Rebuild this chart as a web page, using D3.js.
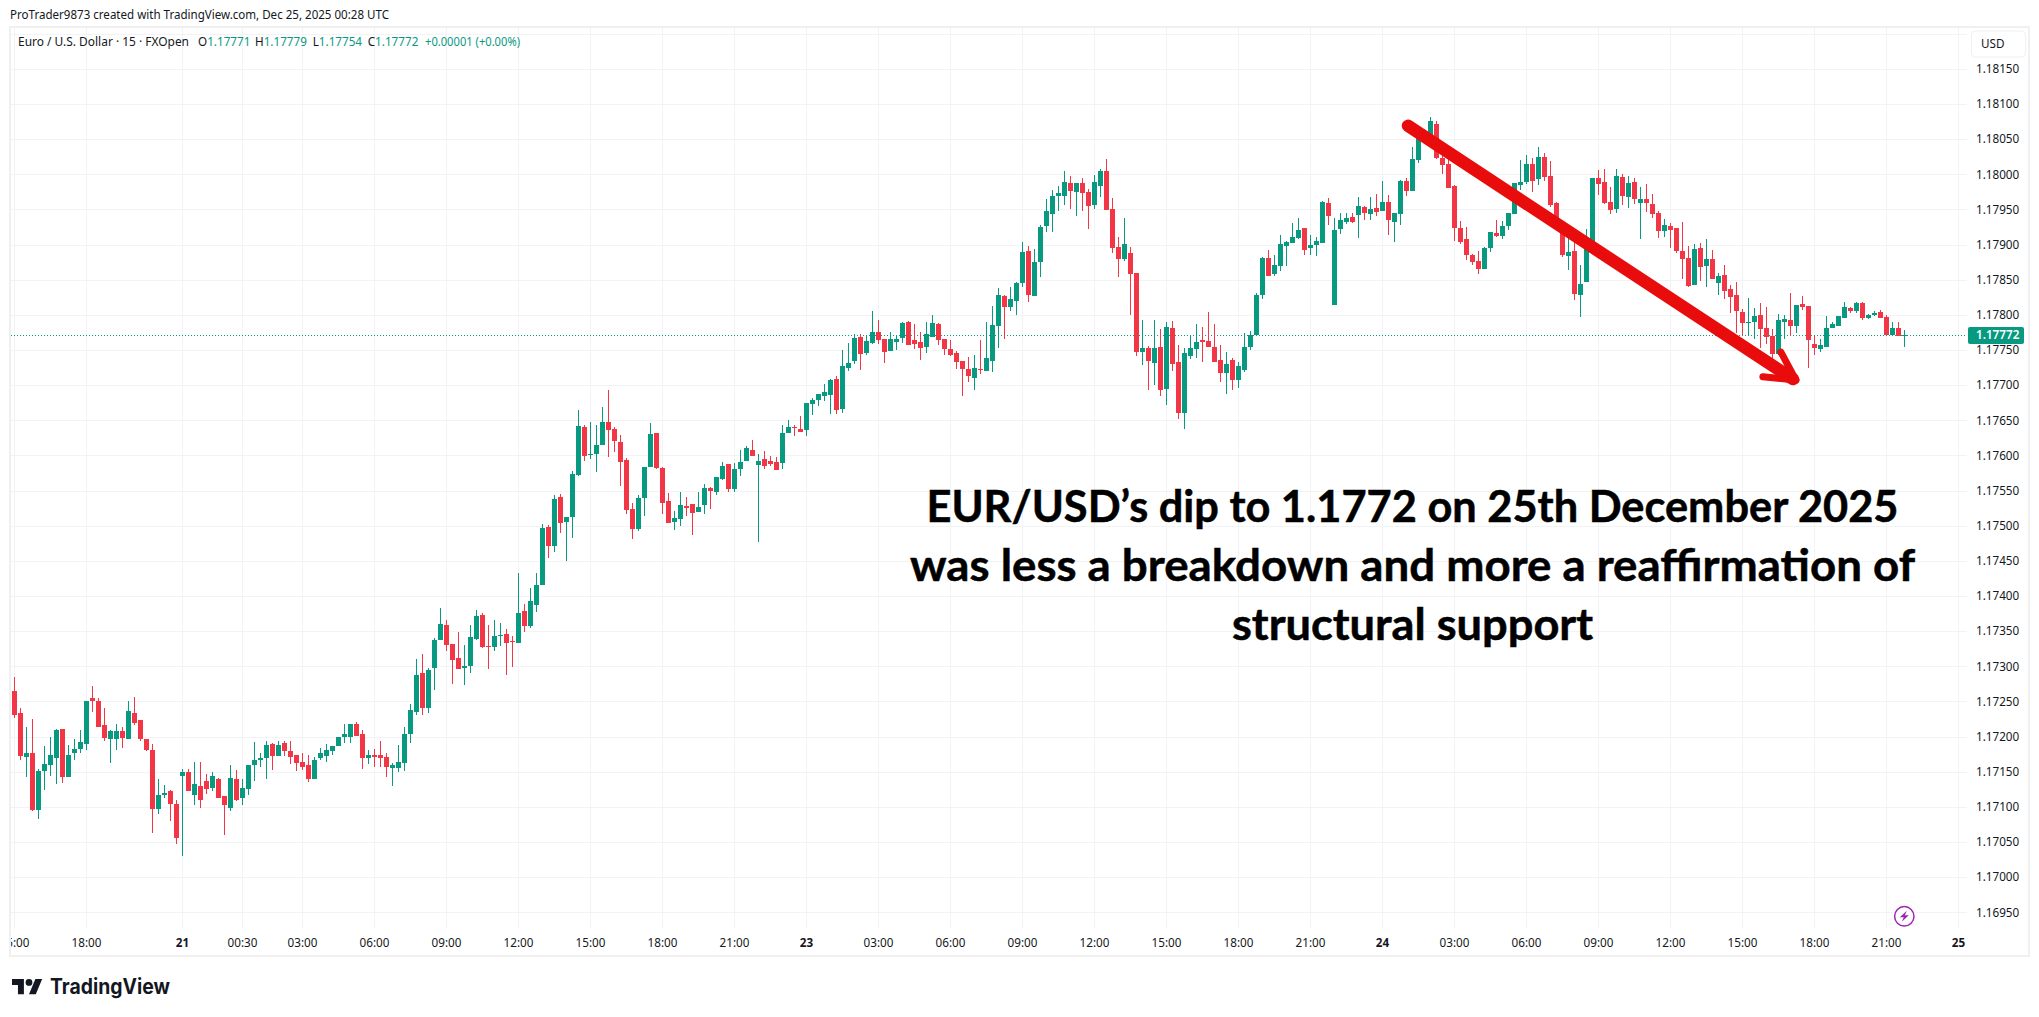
<!DOCTYPE html>
<html><head><meta charset="utf-8">
<style>html,body{margin:0;padding:0;background:#fff;overflow:hidden}svg{display:block}</style>
<script src="https://cdnjs.cloudflare.com/ajax/libs/d3/7.8.5/d3.min.js"></script>
</head><body><svg id="c" width="2039" height="1017"></svg>
<script>
// Prices are stored as points (0.00001) above priceBase
const priceBase = 1.17;
const opens = [265,234,171,176,96,151,159,170,211,143,
176,183,190,255,251,216,196,196,208,197,
234,223,196,181,97,117,122,104,144,149,
117,130,137,127,140,116,99,139,112,126,
160,167,169,190,173,191,180,174,164,160,
140,169,173,180,186,200,200,218,204,170,
174,174,171,156,156,163,203,235,290,240,
297,337,359,332,312,297,301,339,373,329,
327,343,346,336,333,379,358,387,416,498,
471,541,505,512,572,641,601,602,615,648,
638,619,594,524,495,539,584,632,582,535,
505,510,528,531,519,529,554,548,566,588,
552,581,592,608,586,595,592,591,589,632,
641,638,636,673,679,684,686,709,666,724,
734,768,746,760,776,766,749,761,767,790,
764,761,754,768,787,766,751,746,734,723,
710,723,720,734,784,827,811,820,845,891,
827,875,927,944,969,969,988,975,988,975,
956,983,1005,951,897,880,888,860,747,753,
731,754,694,781,733,660,741,751,764,763,
755,736,717,736,707,721,754,771,828,881,
858,869,898,902,909,923,895,899,902,959,
814,922,932,939,942,953,943,952,948,961,
932,943,990,976,1020,1049,1045,1072,1023,1015,
983,923,908,885,876,865,895,916,912,926,
943,985,989,1015,993,1025,998,959,928,884,
891,828,847,901,995,989,960,950,996,968,
989,959,965,958,945,919,926,923,891,881,
842,895,869,879,845,857,837,828,804,788,
790,800,781,770,745,790,792,784,815,812,
758,751,755,782,784,795,810,805,817,795,
800,804,797,771,782,771];
const highs = [285,241,214,225,154,187,200,211,211,188,
197,210,251,272,255,240,210,218,213,251,
257,223,196,190,140,131,124,110,154,154,
164,164,147,149,141,116,159,153,140,160,
193,177,194,191,194,194,194,174,177,174,
171,184,190,187,200,218,218,221,210,181,
183,194,176,163,188,214,247,311,317,297,
340,383,366,332,349,330,359,380,376,359,
366,362,353,343,433,389,411,433,502,501,
544,545,512,578,665,644,648,644,669,693,
641,629,596,532,544,584,646,632,584,546,
521,548,541,531,548,559,555,569,591,588,
589,608,614,622,602,606,599,598,644,651,
644,656,675,682,688,702,709,713,750,760,
773,773,771,805,793,766,776,771,790,791,
787,776,790,800,788,766,764,749,734,740,
743,764,790,813,838,828,840,847,904,898,
894,928,965,978,983,1005,998,988,995,979,
999,1008,1022,966,911,938,897,860,793,756,
793,780,790,791,757,753,771,787,783,804,
787,757,747,739,733,774,777,831,882,892,
885,913,905,930,938,923,913,911,962,966,
938,945,945,945,968,955,968,972,990,971,
945,992,995,1039,1065,1065,1082,1076,1030,1025,
985,933,925,887,891,896,918,935,933,945,
988,1020,1028,1023,1039,1030,1019,961,933,913,
906,871,922,995,1006,1007,982,1007,1000,997,
995,982,986,972,948,936,931,923,932,898,
901,902,908,892,859,871,842,847,808,824,
810,817,811,780,801,800,831,814,827,812,
770,765,798,790,798,819,811,819,819,801,
805,807,800,790,790,779];
const lows = [227,167,143,94,83,124,144,133,134,143,
167,177,181,235,213,194,163,181,184,197,
217,194,180,63,90,113,80,47,30,122,
102,99,119,122,112,60,94,109,103,117,
137,157,140,153,173,173,161,151,153,136,
140,166,164,174,186,191,191,201,154,161,
157,157,143,130,150,151,191,231,231,234,
266,337,322,275,296,273,290,337,326,296,
322,329,287,299,333,349,355,377,416,454,
463,490,450,483,571,592,595,576,615,598,
605,557,517,481,492,514,584,581,517,504,
494,500,514,487,519,517,524,544,565,548,
548,571,592,599,477,581,585,579,581,632,
628,634,628,658,671,677,659,659,661,720,
730,721,743,758,758,731,749,750,760,757,
751,736,746,768,757,743,741,723,684,704,
693,716,720,719,753,766,805,800,840,818,
827,854,918,918,948,956,951,941,948,922,
951,968,949,888,854,877,800,741,729,693,
700,684,672,720,652,637,737,739,733,754,
733,704,688,693,696,719,750,771,822,856,
855,862,869,902,908,885,885,884,902,928,
814,915,929,931,909,935,935,941,948,913,
903,928,969,976,1016,1044,1044,1022,1001,981,
905,901,878,871,858,865,889,911,908,921,
943,978,986,975,985,990,953,921,882,864,
821,797,847,899,971,958,943,945,956,952,
958,908,946,938,909,911,895,888,851,839,
842,848,839,851,828,822,802,774,772,770,
765,753,759,735,743,765,770,774,807,725,
743,747,755,782,784,795,802,802,792,794,
798,795,771,771,770,754];
const closes = [231,173,176,96,151,161,174,210,143,174,
183,193,251,250,213,198,208,208,198,237,
220,196,181,97,117,120,104,56,149,122,
133,110,126,144,113,102,141,110,127,160,
167,169,188,173,188,180,171,163,157,139,
167,176,181,186,200,203,218,201,170,174,
171,170,157,160,164,204,238,288,240,295,
337,360,330,309,296,301,342,371,327,327,
343,345,333,335,376,358,393,416,497,471,
538,504,512,574,642,599,602,615,648,636,
621,591,522,495,539,584,631,582,532,504,
511,529,525,518,527,554,550,569,585,552,
581,591,611,599,592,585,588,579,632,641,
639,634,675,679,688,690,707,664,727,731,
767,744,763,776,764,747,766,766,788,757,
758,753,773,788,764,751,743,733,723,713,
724,721,739,786,828,811,823,845,889,828,
875,925,948,969,974,989,976,988,974,955,
989,1005,949,895,880,901,858,747,753,734,
753,693,783,730,660,746,753,761,761,754,
733,717,730,707,727,755,772,828,881,856,
871,901,903,911,921,893,899,905,961,941,
921,935,938,932,955,945,951,946,961,935,
945,990,976,1022,1054,1058,1076,1023,1013,981,
923,903,885,875,865,895,918,912,926,945,
988,989,1015,990,1025,996,956,930,885,889,
829,844,901,995,986,959,949,997,969,988,
965,965,959,943,919,928,921,891,879,841,
894,868,879,851,855,834,825,805,788,790,
798,780,768,744,792,794,784,814,811,764,
753,757,782,787,798,811,805,817,795,800,
802,795,771,781,770,772];

const priceTicks = [1.1695,1.17,1.1705,1.171,1.1715,1.172,1.1725,1.173,1.1735,1.174,1.1745,1.175,1.1755,1.176,1.1765,1.177,1.1775,1.178,1.1785,1.179,1.1795,1.18,1.1805,1.181,1.1815,1.182];
const hiddenPriceLabels = [1.182];
const timeTickIndex = [0,12,28,38,48,60,72,84,96,108,120,132,144,156,168,180,192,204,216,228,240,252,264,276,288,300,312,324];
const timeTickLabels = ["15:00","18:00","21","00:30","03:00","06:00","09:00","12:00","15:00","18:00","21:00","23","03:00","06:00","09:00","12:00","15:00","18:00","21:00","24","03:00","06:00","09:00","12:00","15:00","18:00","21:00","25"];
const dayLabels = ["21","23","24","25"];
const lastPrice = 1.17772;
const headline = ["EUR/USD’s dip to 1.1772 on 25th December 2025","was less a breakdown and more a reaffirmation of","structural support"];
const headlineWidths = [972,1005,361];
const arrowStart = [232.25,1.18069], arrowTip = [297.4,1.17703], arrowBarbs = [[291.4,1.17712],[294.4,1.17747]];
const headerCreated = "ProTrader9873 created with TradingView.com, Dec 25, 2025 00:28 UTC";
const legendName = "Euro / U.S. Dollar · 15 · FXOpen";
const legendOHLC = [["O","1.17771"],["H","1.17779"],["L","1.17754"],["C","1.17772"]];
const legendChange = "+0.00001 (+0.00%)";

const UP="#089981", DOWN="#f23645", GRID="#f2f3f5", BORDER="#f0f0f0", TXT="#131722", FONT="'Noto Sans',Roboto,sans-serif", FS=11.7;
const price = i => priceBase + i/1e5;

const svg = d3.select("#c");
const x = d3.scaleLinear().domain([0,324]).range([14.5,1958.5]);
const y = d3.scaleLinear().domain([1.1695,1.18]).range([912.3,174.3]);
const defs = svg.append("defs");
defs.append("clipPath").attr("id","pane").append("rect").attr("x",11).attr("y",28).attr("width",1956).attr("height",901);
defs.append("clipPath").attr("id","tb").append("rect").attr("x",11).attr("y",929).attr("width",2017).attr("height",26);

// frame
svg.append("rect").attr("x",10).attr("y",27).attr("width",2019).attr("height",929).attr("fill","none").attr("stroke",BORDER).attr("stroke-width",2);

// grid
const grid = svg.append("g").attr("clip-path","url(#pane)").attr("shape-rendering","crispEdges").attr("stroke",GRID);
grid.selectAll(".h").data(priceTicks).join("line").attr("x1",11).attr("x2",1967).attr("y1",d=>Math.round(y(d))+.5).attr("y2",d=>Math.round(y(d))+.5);
grid.selectAll(".v").data(timeTickIndex).join("line").attr("y1",28).attr("y2",929).attr("x1",d=>Math.floor(x(d))+.5).attr("x2",d=>Math.floor(x(d))+.5);

// dotted last-price line
svg.append("line").attr("x1",11).attr("x2",1967).attr("y1",Math.round(y(lastPrice))+.5).attr("y2",Math.round(y(lastPrice))+.5)
  .attr("stroke",UP).attr("stroke-width",1).attr("stroke-dasharray","1 2");

// candles
const candles = d3.range(opens.length).map(i=>({i,o:price(opens[i]),h:price(highs[i]),l:price(lows[i]),c:price(closes[i])}));
const cg = svg.append("g").attr("clip-path","url(#pane)").attr("shape-rendering","crispEdges");
const col = d=>d.c>=d.o?UP:DOWN;
cg.selectAll(".w").data(candles).join("rect")
  .attr("x",d=>x(d.i)-.5).attr("width",1)
  .attr("y",d=>Math.round(y(Math.max(d.h,d.o,d.c))))
  .attr("height",d=>Math.max(1,Math.round(y(Math.min(d.l,d.o,d.c)))-Math.round(y(Math.max(d.h,d.o,d.c)))))
  .attr("fill",col);
cg.selectAll(".b").data(candles).join("rect")
  .attr("x",d=>x(d.i)-2.5).attr("width",5)
  .attr("y",d=>Math.round(y(Math.max(d.o,d.c))))
  .attr("height",d=>Math.max(1,Math.round(y(Math.min(d.o,d.c)))-Math.round(y(Math.max(d.o,d.c)))))
  .attr("fill",col);

// price axis labels
const pa = svg.append("g").attr("font-family",FONT).attr("font-size",FS).attr("fill",TXT);
pa.selectAll("text").data(priceTicks.filter(p=>!hiddenPriceLabels.includes(p))).join("text")
  .attr("x",1976).attr("y",d=>y(d)).attr("dy","0.36em").text(d=>d.toFixed(5));

// USD box
svg.append("rect").attr("x",1971.5).attr("y",31).attr("width",54).attr("height",26).attr("rx",4).attr("fill","#fff").attr("stroke",BORDER);
svg.append("text").attr("x",1981).attr("y",44).attr("dy","0.36em").attr("font-family",FONT).attr("font-size",FS).attr("fill",TXT).text("USD");

// last price tag
svg.append("rect").attr("x",1968).attr("y",Math.round(y(lastPrice))-8).attr("width",56).attr("height",17).attr("rx",2).attr("fill",UP);
svg.append("text").attr("x",1976).attr("y",y(lastPrice)+.5).attr("dy","0.36em").attr("font-family",FONT).attr("font-size",FS).attr("font-weight",600).attr("fill","#fff").text(lastPrice.toFixed(5));

// time axis labels
const ta = svg.append("g").attr("clip-path","url(#tb)").attr("font-family",FONT).attr("font-size",FS).attr("fill",TXT).attr("text-anchor","middle");
ta.selectAll("text").data(timeTickIndex).join("text")
  .attr("x",d=>x(d)).attr("y",943).attr("dy","0.36em")
  .attr("font-weight",(d,k)=>dayLabels.includes(timeTickLabels[k])?700:400)
  .text((d,k)=>timeTickLabels[k]);

// header + legend
svg.append("text").attr("x",10).attr("y",19).attr("font-family",FONT).attr("font-size",FS).attr("fill",TXT).attr("textLength",379).attr("lengthAdjust","spacingAndGlyphs").text(headerCreated);
const lg = svg.append("g").attr("font-family",FONT).attr("font-size",FS).attr("fill",TXT);
lg.append("text").attr("x",18).attr("y",46).attr("textLength",171).attr("lengthAdjust","spacingAndGlyphs").text(legendName);
const legendX = [198,255,312.7,367.7];
legendOHLC.forEach((r,k)=>{
  const t = lg.append("text").attr("x",legendX[k]).attr("y",46);
  t.append("tspan").text(r[0]);
  t.append("tspan").attr("fill",UP).text(r[1]);
});
lg.append("text").attr("x",425).attr("y",46).attr("fill",UP).attr("textLength",95).attr("lengthAdjust","spacingAndGlyphs").text(legendChange);

// arrow
const ar = svg.append("g").attr("stroke","#e90c0c").attr("fill","none").attr("stroke-linecap","round");
const pt = p=>[x(p[0]),y(p[1])];
const [sx,sy]=pt(arrowStart),[tx,ty]=pt(arrowTip);
ar.append("line").attr("x1",sx).attr("y1",sy).attr("x2",tx-6).attr("y2",ty-4).attr("stroke-width",12.5);
arrowBarbs.forEach(b=>{const [bx,by]=pt(b);
  ar.append("line").attr("x1",tx-3).attr("y1",ty-3).attr("x2",bx).attr("y2",by).attr("stroke-width",7);});

// headline
const hl = svg.append("g").attr("font-family","Lato,'Open Sans',sans-serif").attr("font-weight",700).attr("font-size",43).attr("fill","#000").attr("stroke","#000").attr("stroke-width",0.5).attr("text-anchor","middle");
hl.selectAll("text").data(headline).join("text").attr("x",1412.5).attr("y",(d,k)=>522+k*59)
  .attr("textLength",(d,k)=>headlineWidths[k]).attr("lengthAdjust","spacingAndGlyphs").text(d=>d);

// lightning icon
const ic = svg.append("g").attr("transform","translate(1904.3,916.3)");
ic.append("circle").attr("r",9.7).attr("fill","#fff").attr("stroke","#9c27b0").attr("stroke-width",1.5);
ic.append("path").attr("d","M2.5 -5.5 L-4.5 1 L-0.5 1 L-2.5 5.5 L4.5 -1 L0.5 -1 Z").attr("fill","#9c27b0");

// TradingView logo
const lo = svg.append("g").attr("transform","translate(12,975.6) scale(0.85)").attr("fill","#131722");
lo.append("path").attr("d","M14 22H7V11H0V4h14v18zM28 22h-8l7.5-18h8L28 22z");
lo.append("circle").attr("cx",20).attr("cy",8).attr("r",4);
svg.append("text").attr("x",50).attr("y",994).attr("font-family","Inter,Roboto,sans-serif").attr("font-weight",700).attr("font-size",21).attr("fill","#131722").attr("textLength",120).attr("lengthAdjust","spacingAndGlyphs").text("TradingView");
</script></body></html>
